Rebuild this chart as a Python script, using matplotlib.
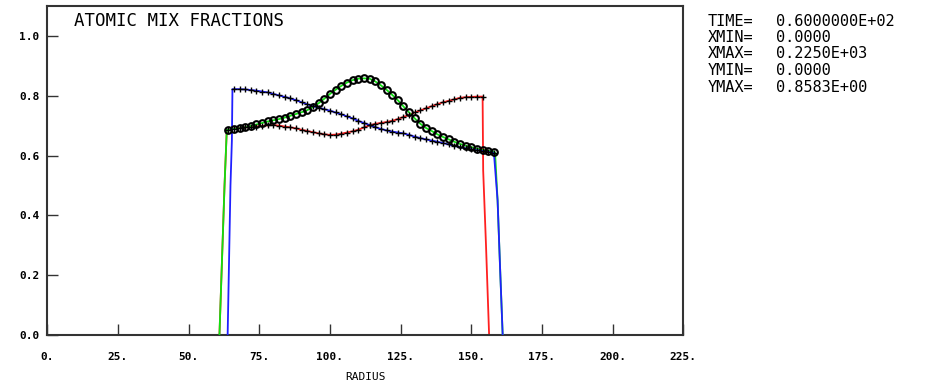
import matplotlib
matplotlib.use("Agg")
import matplotlib.pyplot as plt

# ---- data ----
xx = [64, 66, 68, 70, 72, 74, 76, 78, 80, 82, 84, 86, 88, 90, 92, 94, 96, 98,
      100, 102, 104, 106, 108, 110, 112, 114, 116, 118, 120, 122, 124, 126,
      128, 130, 132, 134, 136, 138, 140, 142, 144, 146, 148, 150, 152, 154,
      156, 158]

blue_v = [None, 0.822, 0.822, 0.821, 0.819, 0.817, 0.814, 0.811, 0.806, 0.801,
          0.796, 0.791, 0.785, 0.778, 0.771, 0.765, 0.760, 0.755, 0.750, 0.744,
          0.738, 0.731, 0.724, 0.716, 0.709, 0.702, 0.695, 0.689, 0.684, 0.680,
          0.677, 0.674, 0.669, 0.663, 0.658, 0.654, 0.650, 0.646, 0.642, 0.637,
          0.632, 0.628, 0.624, 0.621, 0.618, 0.615, 0.612, 0.609]

green_v = [0.686, 0.689, 0.691, 0.694, 0.699, 0.704, 0.709, 0.714, 0.718, 0.722,
           0.727, 0.733, 0.739, 0.745, 0.752, 0.762, 0.775, 0.790, 0.806, 0.820,
           0.833, 0.844, 0.852, 0.857, 0.858, 0.857, 0.848, 0.835, 0.820, 0.803,
           0.785, 0.764, 0.744, 0.724, 0.706, 0.692, 0.682, 0.671, 0.662, 0.654,
           0.646, 0.639, 0.633, 0.628, 0.623, 0.619, 0.616, 0.613]

red_v = [0.686, 0.690, 0.692, 0.694, 0.696, 0.697, 0.699, 0.701, 0.702, 0.700,
         0.697, 0.694, 0.691, 0.686, 0.682, 0.678, 0.674, 0.671, 0.669, 0.670,
         0.673, 0.677, 0.681, 0.686, 0.694, 0.701, 0.706, 0.709, 0.712, 0.716,
         0.722, 0.729, 0.736, 0.744, 0.751, 0.758, 0.765, 0.772, 0.778, 0.783,
         0.788, 0.793, 0.795, 0.796, 0.797, 0.797, None, None]

# edges of the material regions (steep fronts)
green_left_x = [60.9, 61.8, 62.7, 63.5]
green_left_v = [0.0, 0.25, 0.50, 0.686]
blue_left_x = [63.8, 64.3, 64.8, 65.3, 65.5]
blue_left_v = [0.0, 0.25, 0.50, 0.65, 0.822]
blue_right_x = [159.3, 160.2, 161.1]
blue_right_v = [0.45, 0.22, 0.0]
red_right_x = [154.2, 155.2, 156.3]
red_right_v = [0.55, 0.30, 0.0]

xticks = [0, 25, 50, 75, 100, 125, 150, 175, 200, 225]
xtick_labels = ["0.", "25.", "50.", "75.", "100.", "125.", "150.", "175.", "200.", "225."]
yticks = [0.0, 0.2, 0.4, 0.6, 0.8, 1.0]
ytick_labels = ["0.0", "0.2", "0.4", "0.6", "0.8", "1.0"]

info_keys = ["TIME=", "XMIN=", "XMAX=", "YMIN=", "YMAX="]
info_vals = ["0.6000000E+02", "0.0000", "0.2250E+03", "0.0000", "0.8583E+00"]

title = "ATOMIC MIX FRACTIONS"
xlabel = "RADIUS"

# ---- figure ----
fig = plt.figure(figsize=(9.48, 3.84), dpi=100)
ax = fig.add_axes([47.3 / 948, 1 - 335 / 384, (683.3 - 47.3) / 948, (335 - 6) / 384])
ax.set_xlim(0, 225)
ax.set_ylim(0, 1.1)


def series(xs, vs):
    px, pv = [], []
    for a, b in zip(xs, vs):
        if b is not None:
            px.append(a)
            pv.append(b)
    return px, pv


rx, rv = series(xx, red_v)
gx, gv = series(xx, green_v)
bx, bv = series(xx, blue_v)

lw = 1.3
# red
ax.plot(green_left_x + rx + red_right_x, green_left_v + rv + red_right_v,
        color="#ff2020", lw=lw, zorder=2)
# green
ax.plot(green_left_x + gx + [158.4] + blue_right_x, green_left_v + gv + [0.61] + blue_right_v,
        color="#10e010", lw=lw, zorder=3)
# blue
ax.plot(blue_left_x + bx + blue_right_x, blue_left_v + bv + blue_right_v,
        color="#2020ff", lw=lw, zorder=4)

# markers
ax.plot(rx, rv, ls="none", marker="+", ms=5, mew=1.0, color="black", zorder=5)
ax.plot(bx, bv, ls="none", marker="+", ms=5, mew=1.0, color="black", zorder=5)
ax.plot(gx, gv, ls="none", marker="o", ms=4.8, mew=1.5, mfc="none", mec="black", zorder=6)

mono = "DejaVu Sans Mono"
ax.set_xticks(xticks)
ax.set_xticklabels(xtick_labels, fontfamily=mono, fontweight="bold", fontsize=8)
ax.set_yticks(yticks)
ax.set_yticklabels(ytick_labels, fontfamily=mono, fontweight="bold", fontsize=8)
ax.tick_params(axis="both", direction="in", length=8, width=1.0, color="#333333")
ax.tick_params(axis="x", pad=12.5)
ax.tick_params(axis="y", pad=5.5)
ax.tick_params(top=False, right=False)
for s in ax.spines.values():
    s.set_linewidth(1.5)
    s.set_color("#333333")

ax.set_xlabel(xlabel, fontfamily=mono, fontsize=8, labelpad=7)

fig.text(74 / 948, 1 - 21.5 / 384, title, fontfamily=mono,
         fontsize=12.5, va="center", ha="left")

for i, (k, v) in enumerate(zip(info_keys, info_vals)):
    y = 1 - (21 + 16.5 * i) / 384
    fig.text(708 / 948, y, k, fontfamily=mono, fontsize=11, va="center", ha="left")
    fig.text(776 / 948, y, v, fontfamily=mono, fontsize=11, va="center", ha="left")

fig.savefig("out.png", dpi=100)
